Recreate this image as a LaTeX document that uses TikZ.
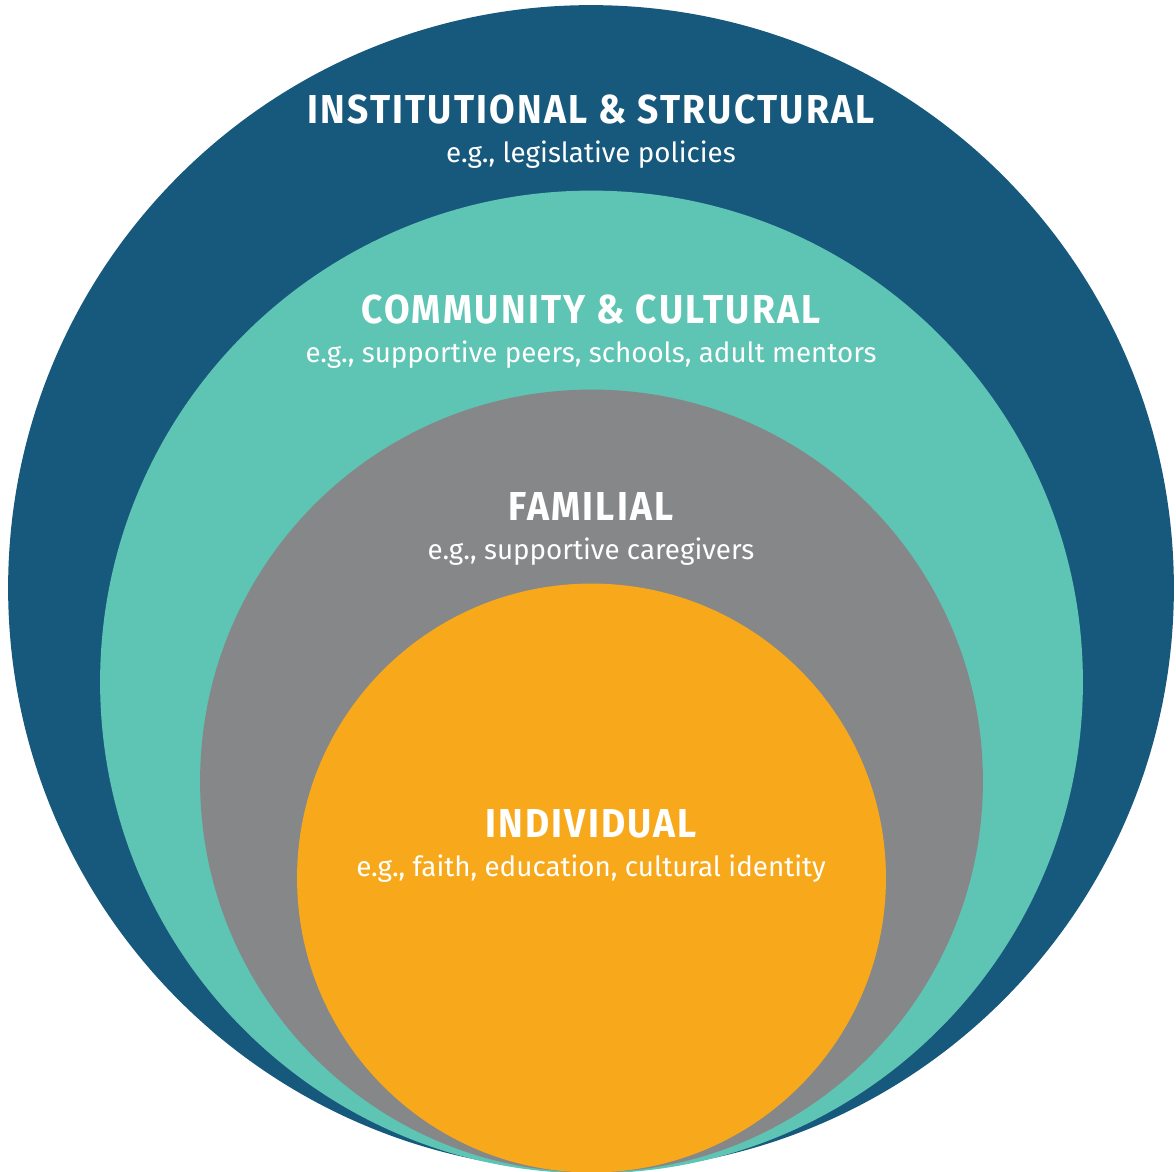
\documentclass[tikz,border=0pt]{standalone}
\usepackage{fontspec}
\setmainfont{Fira Sans}
\newfontfamily\headfont[LetterSpace=5.5,FakeStretch=0.92]{Fira Sans Bold}
\usetikzlibrary{positioning}

\definecolor{instblue}{HTML}{17597D}
\definecolor{commteal}{HTML}{5EC4B3}
\definecolor{famgray}{HTML}{868788}
\definecolor{indorange}{HTML}{F8A91B}

\begin{document}
\begin{tikzpicture}[x=0.02cm, y=-0.02cm,
    ring/.style={circle, inner sep=0pt, draw=none},
    head/.style={text=white, anchor=base, inner sep=0pt, font=\headfont\fontsize{23}{26}\selectfont},
    sub/.style={text=white, anchor=base, inner sep=0pt, font=\fontsize{15.8}{18}\selectfont}]
    \useasboundingbox (0,0) rectangle (1176,1171);

    % nested circles, all touching at the bottom
    \node[ring, fill=instblue,  minimum size=23.32cm] (inst) at (591,588) {};
    \node[ring, fill=commteal,  minimum size=19.66cm] (comm) at (591.5,682) {};
    \node[ring, fill=famgray,   minimum size=15.66cm] (fam)  at (591.5,781) {};
    \node[ring, fill=indorange, minimum size=11.78cm] (ind)  at (591.5,878) {};

    % labels
    \node[head] (insthead) at (591,123) {INSTITUTIONAL \& STRUCTURAL};
    \node[sub]  (instsub)  at (591,162) {e.g., legislative policies};
    \node[head] (commhead) at (591,323) {COMMUNITY \& CULTURAL};
    \node[sub]  (commsub)  at (591,362) {e.g., supportive peers, schools, adult mentors};
    \node[head] (famhead)  at (591,520) {FAMILIAL};
    \node[sub]  (famsub)   at (591,559) {e.g., supportive caregivers};
    \node[head] (indhead)  at (591,837) {INDIVIDUAL};
    \node[sub]  (indsub)   at (591,876) {e.g., faith, education, cultural identity};
\end{tikzpicture}
\end{document}
